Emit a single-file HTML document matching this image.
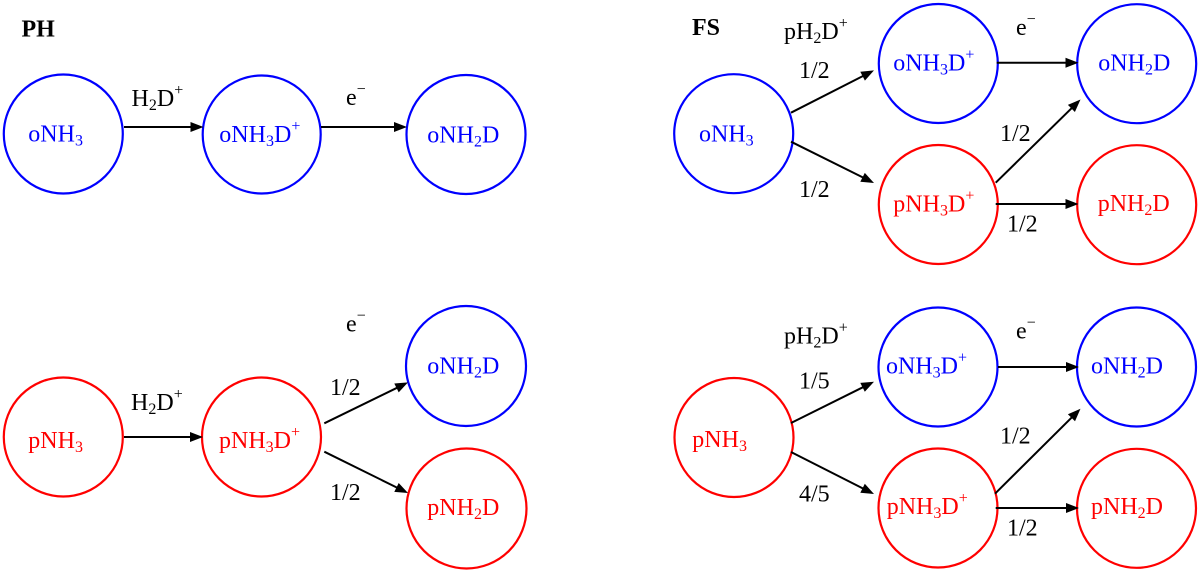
<!DOCTYPE html>
<html><head><meta charset="utf-8"><style>
html,body{margin:0;padding:0;background:#fff;}
svg{display:block;}
svg text, svg tspan{font-family:"Liberation Serif","Times New Roman",Times,"Noto Serif CJK SC","DejaVu Serif",serif !important;font-weight:normal;}
svg text.bd{font-weight:bold;}
</style></head><body>
<svg width="1200" height="572" viewBox="0 0 1200 572" xmlns="http://www.w3.org/2000/svg">
<g fill="none" stroke-width="2.2">
<circle cx="63.3" cy="134" r="59.5" stroke="#0000ff"/>
<circle cx="261.7" cy="134.5" r="59" stroke="#0000ff"/>
<circle cx="466" cy="134.5" r="59.5" stroke="#0000ff"/>
<circle cx="63.3" cy="437" r="59.5" stroke="#ff0000"/>
<circle cx="261.5" cy="437" r="59.5" stroke="#ff0000"/>
<circle cx="466" cy="366" r="60" stroke="#0000ff"/>
<circle cx="466.5" cy="508.5" r="60" stroke="#ff0000"/>
<circle cx="733.7" cy="133.7" r="59.5" stroke="#0000ff"/>
<circle cx="938.3" cy="63.5" r="59.5" stroke="#0000ff"/>
<circle cx="938.3" cy="204.5" r="59.5" stroke="#ff0000"/>
<circle cx="1136.7" cy="63.7" r="59.5" stroke="#0000ff"/>
<circle cx="1136.7" cy="204.7" r="59.5" stroke="#ff0000"/>
<circle cx="734" cy="437.5" r="59.5" stroke="#ff0000"/>
<circle cx="938" cy="367" r="59.5" stroke="#0000ff"/>
<circle cx="938" cy="508" r="59.5" stroke="#ff0000"/>
<circle cx="1136.5" cy="367" r="59.5" stroke="#0000ff"/>
<circle cx="1136.5" cy="508.3" r="59.5" stroke="#ff0000"/>
</g>
<g stroke="#000" stroke-width="2" fill="none">
<line x1="124" y1="127" x2="192" y2="127"/>
<line x1="321" y1="127" x2="396" y2="127"/>
<line x1="124" y1="437" x2="192" y2="437"/>
<line x1="324.3" y1="423.3" x2="397" y2="387.8"/>
<line x1="324.3" y1="451.7" x2="397" y2="487.6"/>
<line x1="791" y1="112.7" x2="863" y2="76"/>
<line x1="791" y1="141.7" x2="863" y2="177.5"/>
<line x1="996.7" y1="62.7" x2="1067" y2="62.7"/>
<line x1="995.7" y1="182.7" x2="1072" y2="107.8"/>
<line x1="995.7" y1="204" x2="1067" y2="204"/>
<line x1="791" y1="423" x2="863" y2="387.2"/>
<line x1="791" y1="452" x2="863" y2="488.5"/>
<line x1="998" y1="367" x2="1068" y2="367"/>
<line x1="995" y1="493.7" x2="1072" y2="417.2"/>
<line x1="995.7" y1="508" x2="1068" y2="508"/>
</g>
<g fill="#000" stroke="none">
<polygon points="203.5,127 190.5,122 190.5,132"/>
<polygon points="407,127 394,122 394,132"/>
<polygon points="203,437 190,432 190,442"/>
<polygon points="408,382.4 398.7,392.4 394.3,383.5"/>
<polygon points="408,493 394.3,491.9 398.7,483"/>
<polygon points="874,70.4 864.9,80.6 860.3,71.7"/>
<polygon points="874,183 860.3,181.8 864.8,172.9"/>
<polygon points="1078.5,62.7 1065.5,57.7 1065.5,67.7"/>
<polygon points="1080.5,99.5 1074.9,112 1067.9,104.9"/>
<polygon points="1078.5,204 1065.5,199 1065.5,209"/>
<polygon points="874,381.7 864.8,391.8 860.3,382.9"/>
<polygon points="874,494 860.3,492.7 864.8,483.8"/>
<polygon points="1079,367 1066,362 1066,372"/>
<polygon points="1080.5,408.8 1075,421.3 1067.9,414.2"/>
<polygon points="1079,508 1066,503 1066,513"/>
</g>

<g font-family="Liberation Serif, Times New Roman, Noto Serif CJK SC, serif" font-size="24">
<text x="21.5" y="36.4" fill="#000" class="bd" font-weight="bold">PH</text>
<text x="692" y="35" fill="#000" class="bd" font-weight="bold">FS</text>

<g fill="#0000ff">
<text x="28.3" y="141.7">oNH<tspan font-size="16" dy="4">3</tspan></text>
<text x="219.3" y="142">oNH<tspan font-size="16" dy="4">3</tspan><tspan dy="-4">D</tspan><tspan font-size="16" dy="-11">+</tspan></text>
<text x="427.3" y="142.5">oNH<tspan font-size="16" dy="4">2</tspan><tspan dy="-4">D</tspan></text>
<text x="427.3" y="373.3">oNH<tspan font-size="16" dy="4">2</tspan><tspan dy="-4">D</tspan></text>
<text x="699" y="141.7">oNH<tspan font-size="16" dy="4">3</tspan></text>
<text x="893.3" y="70.5">oNH<tspan font-size="16" dy="4">3</tspan><tspan dy="-4">D</tspan><tspan font-size="16" dy="-11">+</tspan></text>
<text x="1098.3" y="70.5">oNH<tspan font-size="16" dy="4">2</tspan><tspan dy="-4">D</tspan></text>
<text x="886" y="373.7">oNH<tspan font-size="16" dy="4">3</tspan><tspan dy="-4">D</tspan><tspan font-size="16" dy="-11">+</tspan></text>
<text x="1091" y="373.7">oNH<tspan font-size="16" dy="4">2</tspan><tspan dy="-4">D</tspan></text>
</g>
<g fill="#ff0000">
<text x="28.3" y="448">pNH<tspan font-size="16" dy="4">3</tspan></text>
<text x="219" y="448">pNH<tspan font-size="16" dy="4">3</tspan><tspan dy="-4">D</tspan><tspan font-size="16" dy="-11">+</tspan></text>
<text x="427.3" y="515">pNH<tspan font-size="16" dy="4">2</tspan><tspan dy="-4">D</tspan></text>
<text x="893.3" y="211.5">pNH<tspan font-size="16" dy="4">3</tspan><tspan dy="-4">D</tspan><tspan font-size="16" dy="-11">+</tspan></text>
<text x="1097.7" y="211">pNH<tspan font-size="16" dy="4">2</tspan><tspan dy="-4">D</tspan></text>
<text x="692.3" y="447">pNH<tspan font-size="16" dy="4">3</tspan></text>
<text x="886.7" y="514">pNH<tspan font-size="16" dy="4">3</tspan><tspan dy="-4">D</tspan><tspan font-size="16" dy="-11">+</tspan></text>
<text x="1091" y="514">pNH<tspan font-size="16" dy="4">2</tspan><tspan dy="-4">D</tspan></text>
</g>
<g fill="#000">
<text x="131.5" y="106">H<tspan font-size="16" dy="4">2</tspan><tspan dy="-4">D</tspan><tspan font-size="16" dy="-11">+</tspan></text>
<text x="346" y="105">e<tspan font-size="16" dy="-11">−</tspan></text>
<text x="131" y="410">H<tspan font-size="16" dy="4">2</tspan><tspan dy="-4">D</tspan><tspan font-size="16" dy="-11">+</tspan></text>
<text x="346" y="331.7">e<tspan font-size="16" dy="-11">−</tspan></text>
<text x="330" y="395">1/2</text>
<text x="330" y="500">1/2</text>
<text x="784" y="39">pH<tspan font-size="16" dy="4">2</tspan><tspan dy="-4">D</tspan><tspan font-size="16" dy="-11">+</tspan></text>
<text x="799" y="78">1/2</text>
<text x="799" y="197">1/2</text>
<text x="1016" y="35">e<tspan font-size="16" dy="-11">−</tspan></text>
<text x="1000" y="141">1/2</text>
<text x="1007" y="231.7">1/2</text>
<text x="784" y="343.7">pH<tspan font-size="16" dy="4">2</tspan><tspan dy="-4">D</tspan><tspan font-size="16" dy="-11">+</tspan></text>
<text x="799" y="388.7">1/5</text>
<text x="799" y="501.3">4/5</text>
<text x="1016" y="338.7">e<tspan font-size="16" dy="-11">−</tspan></text>
<text x="1000" y="443.7">1/2</text>
<text x="1007" y="535.3">1/2</text>
</g>
</g>
</svg>
</body></html>
